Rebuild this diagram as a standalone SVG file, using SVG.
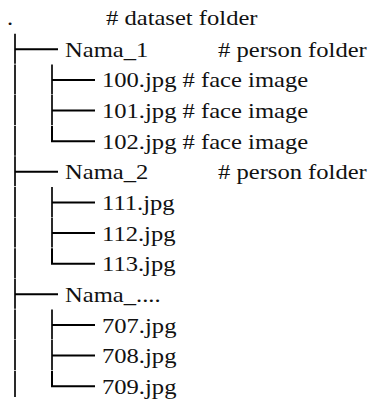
<svg xmlns="http://www.w3.org/2000/svg" width="371" height="401" viewBox="0 0 371 401">
<style>
.t{font-family:'Liberation Serif',serif;font-size:20.5px;fill:#111}
.v{stroke:#2a2a2a;stroke-width:2;fill:none}
.h{stroke:#000;stroke-width:2;fill:none}
</style>
<rect width="371" height="401" fill="#fff"/>
<g id="connectors">
<path class="v" d="M15 33.8V63.8M15 64.4V94.4M15 95.1V125.1M15 125.7V155.7M15 156.3V186.3M15 187V217M15 217.6V247.6M15 248.2V278.2M15 278.8V308.8M15 309.5V339.5M15 340.1V370.1M15 370.7V397"/>
<path class="v" d="M52 64.4V94.4M52 95.1V125.1M52 187V217M52 217.6V247.6M52 309.5V339.5M52 340.1V370.1"/>
<path class="h" d="M52 125.7V141.2H95M52 248.2V263.7H95M52 370.7V386.2H95"/>
<path class="h" d="M15 49.3H58M15 171.8H58M15 294.3H58M52 79.9H95M52 110.6H95M52 202.5H95M52 233.1H95M52 325H95M52 355.6H95"/>
</g>
<g id="root"><text class="t" font-family="Liberation Serif" transform="translate(7,25) scale(1.2,1)">.</text><text class="t" font-family="Liberation Serif" transform="translate(106,25) scale(1.2,1)"># dataset folder</text></g>
<g id="nama1"><text class="t" font-family="Liberation Serif" transform="translate(65,56.8) scale(1.2,1)">Nama_1</text><text class="t" font-family="Liberation Serif" transform="translate(218,56.8) scale(1.2,1)"># person folder</text></g>
<g id="f100"><text class="t" font-family="Liberation Serif" transform="translate(102,87.4) scale(1.2,1)">100.jpg # face image</text></g>
<g id="f101"><text class="t" font-family="Liberation Serif" transform="translate(102,118.1) scale(1.2,1)">101.jpg # face image</text></g>
<g id="f102"><text class="t" font-family="Liberation Serif" transform="translate(102,148.7) scale(1.2,1)">102.jpg # face image</text></g>
<g id="nama2"><text class="t" font-family="Liberation Serif" transform="translate(65,179.3) scale(1.2,1)">Nama_2</text><text class="t" font-family="Liberation Serif" transform="translate(218,179.3) scale(1.2,1)"># person folder</text></g>
<g id="f111"><text class="t" font-family="Liberation Serif" transform="translate(102,210) scale(1.2,1)">111.jpg</text></g>
<g id="f112"><text class="t" font-family="Liberation Serif" transform="translate(102,240.6) scale(1.2,1)">112.jpg</text></g>
<g id="f113"><text class="t" font-family="Liberation Serif" transform="translate(102,271.2) scale(1.2,1)">113.jpg</text></g>
<g id="nama3"><text class="t" font-family="Liberation Serif" transform="translate(65,301.8) scale(1.2,1)">Nama_....</text></g>
<g id="f707"><text class="t" font-family="Liberation Serif" transform="translate(102,332.5) scale(1.2,1)">707.jpg</text></g>
<g id="f708"><text class="t" font-family="Liberation Serif" transform="translate(102,363.1) scale(1.2,1)">708.jpg</text></g>
<g id="f709"><text class="t" font-family="Liberation Serif" transform="translate(102,393.7) scale(1.2,1)">709.jpg</text></g>
</svg>
